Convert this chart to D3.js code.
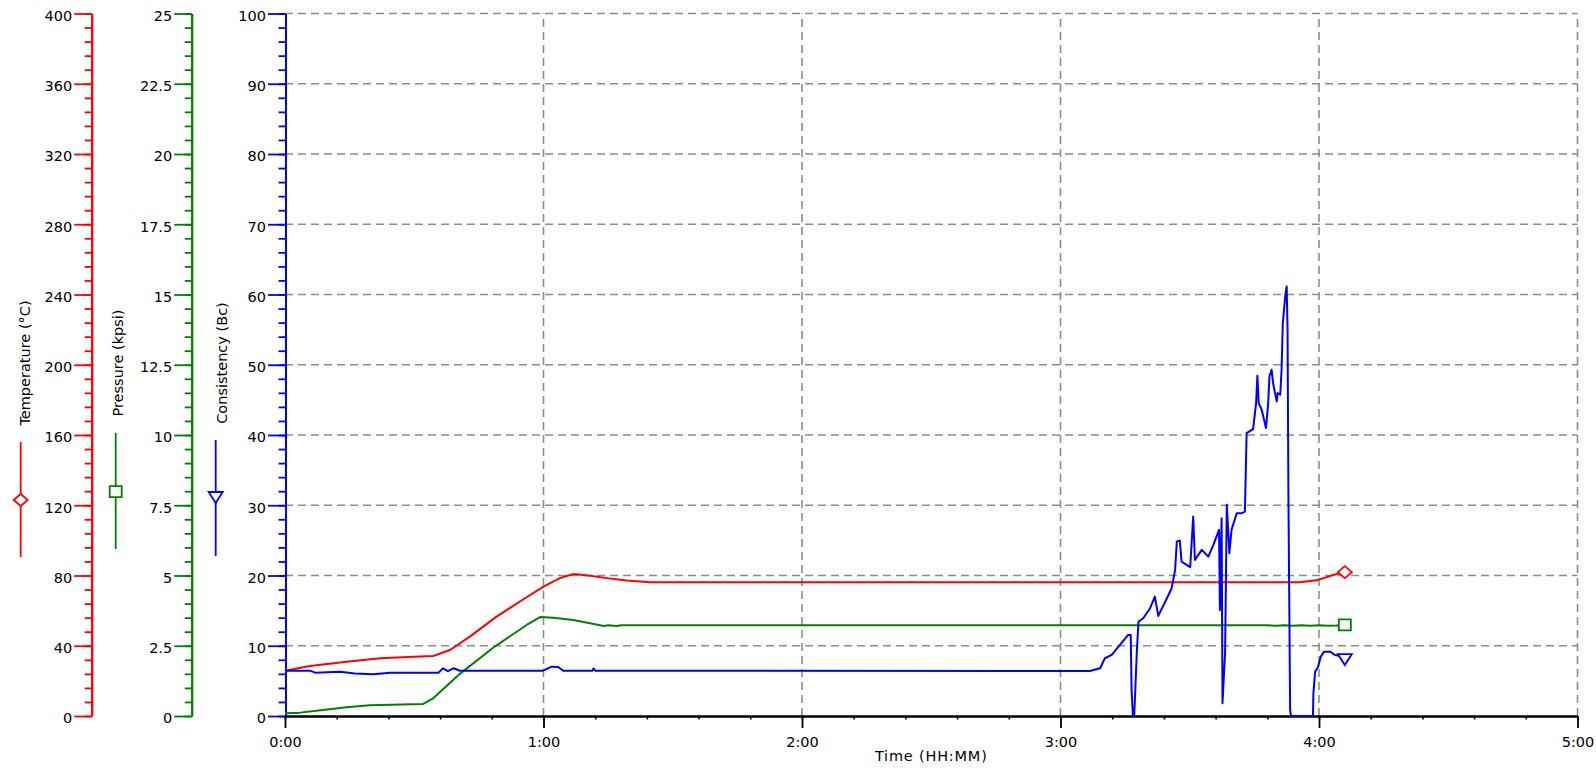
<!DOCTYPE html>
<html>
<head>
<meta charset="utf-8">
<script src="https://cdn.jsdelivr.net/npm/d3@7"></script>
<style>
body{margin:0;background:#fff;}
text{font-family:"DejaVu Sans",sans-serif;}
</style>
</head>
<body>
<div id="chart"></div>
<script>
////////
//  Temperature / pressure / consistency test record, redrawn with d3
///////

// time axis (minutes from start)
var timeTicks=[0,60,120,180,240,300];
var timeLabels=["0:00","1:00","2:00","3:00","4:00","5:00"];

// temperature (ºC)
var tempTime=[0,5.8,14.3,22.1,30,34.4,38.3,42.9,49.1,56.9,60.0,63.8,66.8,67.7,70.8,74.7,79.3,84.7,235.6,239.8,243.3,246.0];
var tempVal =[25.8,28.5,30.9,32.9,33.8,34.2,37.6,45.2,56.6,68.9,73.7,78.5,80.7,80.7,79.8,78.5,77.1,76.2,76.2,77.5,80.3,81.9];

// pressure (kpsi)
var presTime=[0,3.5,8.8,14.3,19.7,32.1,34.4,40.6,48.3,56.1,59.2,62.3,66.9,70.8,73.1,74.0,75.0,77.0,78.0,
              200,228,230,232,234,236,238,240,242,244,246];
var presVal =[0.10,0.12,0.21,0.31,0.38,0.43,0.63,1.50,2.43,3.24,3.52,3.50,3.42,3.30,3.23,3.20,3.23,3.20,3.23,
              3.23,3.23,3.21,3.23,3.21,3.23,3.21,3.23,3.21,3.22,3.24];

// consistency (Bc)
var consTime=[0,5.8,7.0,12.8,16.2,20.5,24.4,35.6,36.7,37.8,39.1,40.6,59.9,61.9,63.4,64.6,71.3,71.6,72.0,
              186.8,189.2,190.3,191.9,193.8,195.7,196.3,196.5,196.8,197.1,197.3,197.7,198.1,199.2,200.8,201.9,
              202.7,204.7,205.8,206.6,207.0,207.7,208.1,210.1,210.8,211.2,212.8,214.3,215.5,216.8,217.0,217.4,
              217.6,218.2,218.6,219.2,219.7,220.9,222.1,222.8,223.2,224.7,225.4,225.7,226.0,226.7,227.7,228.2,
              228.5,229.0,229.4,230.2,230.4,231.0,231.3,231.6,232.2,232.5,232.7,232.9,233.3,233.5,238.6,238.7,
              239.1,239.8,240.4,241.2,242.6,243.7,244.9,246.0];
var consVal =[6.45,6.45,6.17,6.31,6.05,5.94,6.17,6.17,6.79,6.4,6.79,6.45,6.45,7.02,6.98,6.45,6.45,6.77,6.45,
              6.41,6.79,8.22,8.69,10.11,11.54,11.54,3.7,0,0,2.75,8.93,13.43,13.92,15.34,17.0,
              14.25,16.77,18.19,20.8,24.83,24.97,21.98,21.18,28.39,22.22,23.65,22.69,24.36,26.5,15.1,28.16,
              1.81,8.93,30.06,23.18,26.5,28.87,28.87,29.1,40.27,40.84,44.54,48.43,44.54,43.59,40.98,44.54,
              48.33,49.29,47.15,44.77,45.97,45.73,49.05,55.94,59.97,61.15,55,31.48,0.85,0,0,3.23,
              6.31,7.02,8.45,9.16,9.16,8.69,8.55,8.1];

// axis tick values
var tempTicks=d3.range(0,401,40);
var presTicks=d3.range(0,25.01,2.5);
var consTicks=d3.range(0,101,10);

var width=1596, height=772;
var plotTop=13.5, plotBottom=716;
var red="#ff0000", green="#008000", blue="#0000ff";
var fontSize=14.5;

var svg=d3.select("#chart").append("svg")
    .attr("width",width).attr("height",height);

var x=d3.scaleLinear().domain([0,300]).range([285,1577.5]);
var yTemp=d3.scaleLinear().domain([0,400]).range([plotBottom,plotTop]);
var yPres=d3.scaleLinear().domain([0,25]).range([plotBottom,plotTop]);
var yCons=d3.scaleLinear().domain([0,100]).range([plotBottom,plotTop]);

// dashed grid
var grid=svg.append("g").attr("stroke","#8c8c8c").attr("stroke-width",1.6)
    .attr("stroke-dasharray","8,5").attr("fill","none");
grid.selectAll("line.h").data(consTicks.slice(1)).enter().append("line")
    .attr("x1",x(0)).attr("x2",x(300))
    .attr("y1",d=>yCons(d)).attr("y2",d=>yCons(d));
grid.selectAll("line.v").data(timeTicks.slice(1)).enter().append("line")
    .attr("y1",yCons(0)).attr("y2",yCons(100))
    .attr("x1",d=>x(d)).attr("x2",d=>x(d));

function styleAxis(g,color){
    g.select(".domain").attr("stroke",color).attr("stroke-width",2);
    g.selectAll(".tick line").attr("stroke",color).attr("stroke-width",1.8);
    g.selectAll(".tick text").attr("fill","black").attr("font-size",fontSize)
        .attr("font-family","DejaVu Sans").attr("dy","0.47em");
}

function drawYAxis(xPos,scale,majors,minorStep,color){
    var max=scale.domain()[1];
    var gm=svg.append("g").attr("transform","translate("+xPos+",0)")
        .call(d3.axisLeft(scale).tickValues(d3.range(0,max+1e-6,minorStep))
              .tickSize(7).tickSizeOuter(0).tickFormat(""));
    styleAxis(gm,color);
    var g=svg.append("g").attr("transform","translate("+xPos+",0)")
        .call(d3.axisLeft(scale).tickValues(majors).tickSize(17.5)
              .tickSizeOuter(0).tickPadding(2).tickFormat(d=>d));
    styleAxis(g,color);
}

drawYAxis(91.7,yTemp,tempTicks,8,red);
drawYAxis(191.7,yPres,presTicks,0.5,green);
drawYAxis(285.5,yCons,consTicks,2,blue);

// time axis
var gxm=svg.append("g").attr("transform","translate(0,"+plotBottom+")")
    .call(d3.axisBottom(x).tickValues(d3.range(0,301,12)).tickSize(3.5)
          .tickSizeOuter(0).tickFormat(""));
gxm.select(".domain").attr("stroke","black").attr("stroke-width",2);
gxm.selectAll(".tick line").attr("stroke","black").attr("stroke-width",1.6);
var gx=svg.append("g").attr("transform","translate(0,"+plotBottom+")")
    .call(d3.axisBottom(x).tickValues(timeTicks).tickSize(12)
          .tickSizeOuter(0).tickPadding(9).tickFormat((d,i)=>timeLabels[i]));
gx.select(".domain").attr("stroke","black").attr("stroke-width",2);
gx.selectAll(".tick line").attr("stroke","black").attr("stroke-width",1.8);
gx.selectAll(".tick text").attr("fill","black").attr("font-size",fontSize).attr("font-family","DejaVu Sans");

svg.append("text").attr("x",x(150)).attr("y",761).attr("text-anchor","middle")
    .attr("font-size",fontSize).attr("letter-spacing",0.8).attr("fill","black").text("Time (HH:MM)");

// series lines
function drawSeries(times,vals,scale,color){
    var pts=times.map((t,i)=>[t,vals[i]]);
    var line=d3.line().x(d=>x(d[0])).y(d=>scale(d[1]));
    svg.append("path").datum(pts).attr("d",line)
        .attr("fill","none").attr("stroke",color).attr("stroke-width",2)
        .attr("stroke-linejoin","round");
    return pts[pts.length-1];
}

var tl=drawSeries(tempTime,tempVal,yTemp,red);
var pl=drawSeries(presTime,presVal,yPres,green);
var cl=drawSeries(consTime,consVal,yCons,blue);

// marker shapes
function diamond(cx,cy){ return "M"+(cx-7)+","+cy+"L"+cx+","+(cy-6)+"L"+(cx+7)+","+cy+"L"+cx+","+(cy+6)+"Z"; }
function square(cx,cy){ return "M"+(cx-6)+","+(cy-5.5)+"h12v11h-12Z"; }
function triDown(cx,cy){ return "M"+(cx-7)+","+(cy-5)+"L"+(cx+7)+","+(cy-5)+"L"+cx+","+(cy+6)+"Z"; }

function marker(fn,cx,cy,color){
    svg.append("path").attr("d",fn(cx,cy)).attr("fill","white")
        .attr("stroke",color).attr("stroke-width",1.8);
}

marker(diamond,x(tl[0]),yTemp(tl[1]),red);
marker(square,x(pl[0]),yPres(pl[1]),green);
marker(triDown,x(cl[0]),yCons(cl[1]),blue);

// axis titles with legend samples
var titles=[
    {text:"Temperature (°C)",bx:30,lx:20.7,y1:442,y2:557,my:500,fn:diamond,color:red},
    {text:"Pressure (kpsi)",bx:123,lx:115.7,y1:433,y2:549,my:491.7,fn:square,color:green},
    {text:"Consistency (Bc)",bx:227,lx:215.7,y1:440,y2:556,my:497,fn:triDown,color:blue}
];
titles.forEach(function(t){
    svg.append("text").attr("transform","translate("+t.bx+",363) rotate(-90)")
        .attr("text-anchor","middle").attr("font-size",fontSize).attr("fill","black").text(t.text);
    svg.append("line").attr("x1",t.lx).attr("x2",t.lx).attr("y1",t.y1).attr("y2",t.y2)
        .attr("stroke",t.color).attr("stroke-width",1.8);
    marker(t.fn,t.lx,t.my,t.color);
});
</script>
</body>
</html>
